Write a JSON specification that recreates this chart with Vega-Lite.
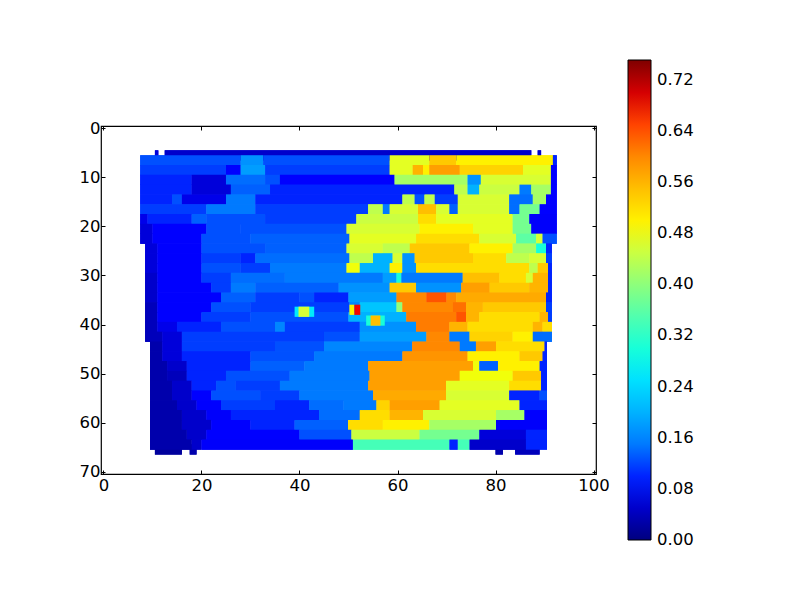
{"$schema":"https://vega.github.io/schema/vega-lite/v6.json","autosize":"none","width":495,"height":348,"padding":{"left":101,"top":126,"right":204,"bottom":126},"background":"white","config":{"view":{"stroke":"black","strokeWidth":1.2},"axis":{"labelFont":"DejaVu Sans","labelFontSize":16.5,"labelColor":"black","domain":false,"grid":false,"tickColor":"black","tickSize":-4,"title":null,"labelFlush":false},"legend":{"labelFont":"DejaVu Sans"}},"datasets":{"cells":[
{"x":12.5,"x2":87.3,"y":5.5,"v":0.05},{"x":10.5,"x2":11.2,"y":5.5,"v":0.06},{"x":88.6,"x2":89.3,"y":5.5,"v":0.05},
{"x":10.5,"x2":16,"y":65.5,"v":0.02},{"x":17.6,"x2":19,"y":65.5,"v":0.03},{"x":80,"x2":81.5,"y":65.5,"v":0.03},{"x":84,"x2":89,"y":65.5,"v":0.04},
{"x":7.5,"x2":28,"y":6.5,"v":0.12},{"x":28,"x2":32.6,"y":6.5,"v":0.17},{"x":32.6,"x2":58.4,"y":6.5,"v":0.12},{"x":58.4,"x2":66.5,"y":6.5,"v":0.47},{"x":66.5,"x2":72,"y":6.5,"v":0.54},{"x":72,"x2":91.7,"y":6.5,"v":0.5},{"x":91.7,"x2":92.5,"y":6.5,"v":0.1},
{"x":7.5,"x2":25,"y":8.5,"v":0.11},{"x":25,"x2":28,"y":8.5,"v":0.09},{"x":28,"x2":33,"y":8.5,"v":0.18},{"x":33,"x2":58.4,"y":8.5,"v":0.11},{"x":58.4,"x2":63.1,"y":8.5,"v":0.47},{"x":63.1,"x2":65.2,"y":8.5,"v":0.56},{"x":65.2,"x2":66.5,"y":8.5,"v":0.5},{"x":66.5,"x2":72.7,"y":8.5,"v":0.58},{"x":72.7,"x2":85.6,"y":8.5,"v":0.53},{"x":85.6,"x2":91.3,"y":8.5,"v":0.47},{"x":91.3,"x2":92.5,"y":8.5,"v":0.09},
{"x":7.5,"x2":18,"y":10.5,"v":0.1},{"x":18,"x2":25,"y":10.5,"v":0.06},{"x":25,"x2":33,"y":10.5,"v":0.14},{"x":33,"x2":36,"y":10.5,"v":0.12},{"x":36,"x2":59.4,"y":10.5,"v":0.09},{"x":59.4,"x2":74.3,"y":10.5,"v":0.42},{"x":74.3,"x2":77,"y":10.5,"v":0.17},{"x":77,"x2":91.3,"y":10.5,"v":0.46},{"x":91.3,"x2":92.5,"y":10.5,"v":0.09},
{"x":7.5,"x2":18,"y":12.5,"v":0.1},{"x":18,"x2":26,"y":12.5,"v":0.06},{"x":26,"x2":34,"y":12.5,"v":0.13},{"x":34,"x2":71.6,"y":12.5,"v":0.1},{"x":71.6,"x2":74.3,"y":12.5,"v":0.44},{"x":74.3,"x2":76.7,"y":12.5,"v":0.2},{"x":76.7,"x2":84.9,"y":12.5,"v":0.45},{"x":84.9,"x2":87.3,"y":12.5,"v":0.15},{"x":87.3,"x2":91.3,"y":12.5,"v":0.42},{"x":91.3,"x2":92.5,"y":12.5,"v":0.09},
{"x":7.5,"x2":14,"y":14.5,"v":0.1},{"x":14,"x2":16,"y":14.5,"v":0.12},{"x":16,"x2":25,"y":14.5,"v":0.07},{"x":25,"x2":31,"y":14.5,"v":0.15},{"x":31,"x2":61,"y":14.5,"v":0.1},{"x":61,"x2":63.5,"y":14.5,"v":0.44},{"x":63.5,"x2":65.5,"y":14.5,"v":0.12},{"x":65.5,"x2":67.6,"y":14.5,"v":0.44},{"x":67.6,"x2":72.3,"y":14.5,"v":0.11},{"x":72.3,"x2":82.8,"y":14.5,"v":0.46},{"x":82.8,"x2":87.6,"y":14.5,"v":0.14},{"x":87.6,"x2":90.3,"y":14.5,"v":0.42},{"x":90.3,"x2":92.5,"y":14.5,"v":0.09},
{"x":7.5,"x2":15,"y":16.5,"v":0.11},{"x":15,"x2":21,"y":16.5,"v":0.11},{"x":21,"x2":31,"y":16.5,"v":0.15},{"x":31,"x2":54,"y":16.5,"v":0.11},{"x":54,"x2":57,"y":16.5,"v":0.44},{"x":57,"x2":58.4,"y":16.5,"v":0.15},{"x":58.4,"x2":64.2,"y":16.5,"v":0.46},{"x":64.2,"x2":67.9,"y":16.5,"v":0.55},{"x":67.9,"x2":70.6,"y":16.5,"v":0.46},{"x":70.6,"x2":72.3,"y":16.5,"v":0.13},{"x":72.3,"x2":82.8,"y":16.5,"v":0.46},{"x":82.8,"x2":84.9,"y":16.5,"v":0.14},{"x":84.9,"x2":89,"y":16.5,"v":0.38},{"x":89,"x2":92.5,"y":16.5,"v":0.09},
{"x":7.5,"x2":9,"y":18.5,"v":0.07},{"x":9,"x2":18,"y":18.5,"v":0.1},{"x":18,"x2":21,"y":18.5,"v":0.13},{"x":21,"x2":33,"y":18.5,"v":0.12},{"x":33,"x2":51.6,"y":18.5,"v":0.11},{"x":51.6,"x2":64.2,"y":18.5,"v":0.45},{"x":64.2,"x2":67.9,"y":18.5,"v":0.52},{"x":67.9,"x2":83.5,"y":18.5,"v":0.47},{"x":83.5,"x2":86.9,"y":18.5,"v":0.38},{"x":86.9,"x2":92.5,"y":18.5,"v":0.08},
{"x":7.5,"x2":10,"y":20.5,"v":0.06},{"x":10,"x2":21,"y":20.5,"v":0.09},{"x":21,"x2":28,"y":20.5,"v":0.12},{"x":28,"x2":49.6,"y":20.5,"v":0.12},{"x":49.6,"x2":64.5,"y":20.5,"v":0.46},{"x":64.5,"x2":75.4,"y":20.5,"v":0.5},{"x":75.4,"x2":83.5,"y":20.5,"v":0.47},{"x":83.5,"x2":87.3,"y":20.5,"v":0.38},{"x":87.3,"x2":92.5,"y":20.5,"v":0.08},
{"x":7.5,"x2":10,"y":22.5,"v":0.06},{"x":10,"x2":20,"y":22.5,"v":0.09},{"x":20,"x2":30,"y":22.5,"v":0.12},{"x":30,"x2":50.2,"y":22.5,"v":0.13},{"x":50.2,"x2":63.8,"y":22.5,"v":0.47},{"x":63.8,"x2":76.7,"y":22.5,"v":0.52},{"x":76.7,"x2":84.2,"y":22.5,"v":0.46},{"x":84.2,"x2":88.3,"y":22.5,"v":0.36},{"x":88.3,"x2":89.6,"y":22.5,"v":0.46},{"x":89.6,"x2":92.5,"y":22.5,"v":0.12},
{"x":8.5,"x2":11,"y":24.5,"v":0.06},{"x":11,"x2":20,"y":24.5,"v":0.09},{"x":20,"x2":33,"y":24.5,"v":0.12},{"x":33,"x2":49.6,"y":24.5,"v":0.13},{"x":49.6,"x2":57,"y":24.5,"v":0.46},{"x":57,"x2":62.5,"y":24.5,"v":0.44},{"x":62.5,"x2":74.7,"y":24.5,"v":0.54},{"x":74.7,"x2":83.5,"y":24.5,"v":0.5},{"x":83.5,"x2":88.3,"y":24.5,"v":0.42},{"x":88.3,"x2":90.3,"y":24.5,"v":0.3},{"x":90.3,"x2":91.5,"y":24.5,"v":0.1},
{"x":8.5,"x2":11,"y":26.5,"v":0.06},{"x":11,"x2":20,"y":26.5,"v":0.09},{"x":20,"x2":28,"y":26.5,"v":0.11},{"x":28,"x2":31,"y":26.5,"v":0.1},{"x":31,"x2":50.2,"y":26.5,"v":0.14},{"x":50.2,"x2":55,"y":26.5,"v":0.44},{"x":55,"x2":59,"y":26.5,"v":0.2},{"x":59,"x2":61,"y":26.5,"v":0.46},{"x":61,"x2":63.5,"y":26.5,"v":0.17},{"x":63.5,"x2":75.4,"y":26.5,"v":0.54},{"x":75.4,"x2":82.2,"y":26.5,"v":0.52},{"x":82.2,"x2":86.9,"y":26.5,"v":0.44},{"x":86.9,"x2":90.3,"y":26.5,"v":0.46},{"x":90.3,"x2":91.5,"y":26.5,"v":0.11},
{"x":8.5,"x2":11,"y":28.5,"v":0.06},{"x":11,"x2":20,"y":28.5,"v":0.09},{"x":20,"x2":28,"y":28.5,"v":0.12},{"x":28,"x2":34,"y":28.5,"v":0.11},{"x":34,"x2":49.6,"y":28.5,"v":0.15},{"x":49.6,"x2":52.3,"y":28.5,"v":0.48},{"x":52.3,"x2":58.4,"y":28.5,"v":0.2},{"x":58.4,"x2":61,"y":28.5,"v":0.5},{"x":61,"x2":63.8,"y":28.5,"v":0.17},{"x":63.8,"x2":86.9,"y":28.5,"v":0.52},{"x":86.9,"x2":88.6,"y":28.5,"v":0.44},{"x":88.6,"x2":90.7,"y":28.5,"v":0.54},{"x":90.7,"x2":91.5,"y":28.5,"v":0.1},
{"x":8.5,"x2":11,"y":30.5,"v":0.05},{"x":11,"x2":20,"y":30.5,"v":0.09},{"x":20,"x2":26,"y":30.5,"v":0.11},{"x":26,"x2":37,"y":30.5,"v":0.14},{"x":37,"x2":57,"y":30.5,"v":0.15},{"x":57,"x2":59.8,"y":30.5,"v":0.18},{"x":59.8,"x2":60.8,"y":30.5,"v":0.3},{"x":60.8,"x2":73.3,"y":30.5,"v":0.15},{"x":73.3,"x2":80.8,"y":30.5,"v":0.55},{"x":80.8,"x2":86.2,"y":30.5,"v":0.52},{"x":86.2,"x2":87.6,"y":30.5,"v":0.46},{"x":87.6,"x2":90.7,"y":30.5,"v":0.56},{"x":90.7,"x2":91.5,"y":30.5,"v":0.1},
{"x":8.5,"x2":11,"y":32.5,"v":0.05},{"x":11,"x2":22,"y":32.5,"v":0.09},{"x":22,"x2":26,"y":32.5,"v":0.11},{"x":26,"x2":31,"y":32.5,"v":0.15},{"x":31,"x2":48,"y":32.5,"v":0.13},{"x":48,"x2":58.4,"y":32.5,"v":0.17},{"x":58.4,"x2":63.8,"y":32.5,"v":0.54},{"x":63.8,"x2":73,"y":32.5,"v":0.17},{"x":73,"x2":78.8,"y":32.5,"v":0.58},{"x":78.8,"x2":86.9,"y":32.5,"v":0.54},{"x":86.9,"x2":90.7,"y":32.5,"v":0.56},{"x":90.7,"x2":91.5,"y":32.5,"v":0.1},
{"x":8.5,"x2":11,"y":34.5,"v":0.05},{"x":11,"x2":24,"y":34.5,"v":0.09},{"x":24,"x2":31,"y":34.5,"v":0.13},{"x":31,"x2":40,"y":34.5,"v":0.11},{"x":40,"x2":43,"y":34.5,"v":0.12},{"x":43,"x2":50,"y":34.5,"v":0.1},{"x":50,"x2":59.8,"y":34.5,"v":0.18},{"x":59.8,"x2":65.9,"y":34.5,"v":0.6},{"x":65.9,"x2":70,"y":34.5,"v":0.64},{"x":70,"x2":72,"y":34.5,"v":0.6},{"x":72,"x2":90.3,"y":34.5,"v":0.57},{"x":90.3,"x2":91.5,"y":34.5,"v":0.1},
{"x":8.5,"x2":11,"y":36.5,"v":0.04},{"x":11,"x2":22,"y":36.5,"v":0.09},{"x":22,"x2":30,"y":36.5,"v":0.12},{"x":30,"x2":50.2,"y":36.5,"v":0.11},{"x":50.2,"x2":52.3,"y":36.5,"v":0.16},{"x":52.3,"x2":59.8,"y":36.5,"v":0.22},{"x":59.8,"x2":61,"y":36.5,"v":0.4},{"x":61,"x2":71.3,"y":36.5,"v":0.6},{"x":71.3,"x2":74,"y":36.5,"v":0.62},{"x":74,"x2":77.4,"y":36.5,"v":0.56},{"x":77.4,"x2":90.3,"y":36.5,"v":0.54},{"x":90.3,"x2":91.5,"y":36.5,"v":0.11},
{"x":8.5,"x2":11,"y":38.5,"v":0.04},{"x":11,"x2":20,"y":38.5,"v":0.09},{"x":20,"x2":30,"y":38.5,"v":0.11},{"x":30,"x2":50,"y":38.5,"v":0.12},{"x":50,"x2":61.8,"y":38.5,"v":0.2},{"x":61.8,"x2":72,"y":38.5,"v":0.61},{"x":72,"x2":74,"y":38.5,"v":0.64},{"x":74,"x2":76.7,"y":38.5,"v":0.56},{"x":76.7,"x2":89,"y":38.5,"v":0.52},{"x":89,"x2":90.7,"y":38.5,"v":0.56},{"x":90.7,"x2":91.5,"y":38.5,"v":0.11},
{"x":8.5,"x2":11,"y":40.5,"v":0.04},{"x":11,"x2":15,"y":40.5,"v":0.07},{"x":15,"x2":24,"y":40.5,"v":0.1},{"x":24,"x2":35,"y":40.5,"v":0.12},{"x":35,"x2":37,"y":40.5,"v":0.16},{"x":37,"x2":52.3,"y":40.5,"v":0.11},{"x":52.3,"x2":63.8,"y":40.5,"v":0.17},{"x":63.8,"x2":70.6,"y":40.5,"v":0.61},{"x":70.6,"x2":74.3,"y":40.5,"v":0.56},{"x":74.3,"x2":87.6,"y":40.5,"v":0.52},{"x":87.6,"x2":89.6,"y":40.5,"v":0.56},{"x":89.6,"x2":91.5,"y":40.5,"v":0.52},
{"x":8.5,"x2":12,"y":42.5,"v":0.04},{"x":12,"x2":16,"y":42.5,"v":0.06},{"x":16,"x2":45,"y":42.5,"v":0.11},{"x":45,"x2":52.3,"y":42.5,"v":0.12},{"x":52.3,"x2":65.9,"y":42.5,"v":0.18},{"x":65.9,"x2":70.6,"y":42.5,"v":0.6},{"x":70.6,"x2":74.7,"y":42.5,"v":0.15},{"x":74.7,"x2":83.5,"y":42.5,"v":0.53},{"x":83.5,"x2":87.6,"y":42.5,"v":0.5},{"x":87.6,"x2":91.5,"y":42.5,"v":0.14},
{"x":9.5,"x2":12,"y":44.5,"v":0.03},{"x":12,"x2":16,"y":44.5,"v":0.06},{"x":16,"x2":35,"y":44.5,"v":0.11},{"x":35,"x2":45,"y":44.5,"v":0.12},{"x":45,"x2":63,"y":44.5,"v":0.16},{"x":63,"x2":72.7,"y":44.5,"v":0.6},{"x":72.7,"x2":76,"y":44.5,"v":0.15},{"x":76,"x2":80.1,"y":44.5,"v":0.58},{"x":80.1,"x2":90,"y":44.5,"v":0.52},{"x":90,"x2":90.5,"y":44.5,"v":0.1},
{"x":9.5,"x2":12,"y":46.5,"v":0.03},{"x":12,"x2":16,"y":46.5,"v":0.06},{"x":16,"x2":30,"y":46.5,"v":0.1},{"x":30,"x2":43,"y":46.5,"v":0.12},{"x":43,"x2":61,"y":46.5,"v":0.15},{"x":61,"x2":74.3,"y":46.5,"v":0.59},{"x":74.3,"x2":84.9,"y":46.5,"v":0.5},{"x":84.9,"x2":89.6,"y":46.5,"v":0.54},{"x":89.6,"x2":90.5,"y":46.5,"v":0.1},
{"x":9.5,"x2":13,"y":48.5,"v":0.03},{"x":13,"x2":17,"y":48.5,"v":0.05},{"x":17,"x2":30,"y":48.5,"v":0.1},{"x":30,"x2":41,"y":48.5,"v":0.13},{"x":41,"x2":54,"y":48.5,"v":0.15},{"x":54,"x2":75.4,"y":48.5,"v":0.58},{"x":75.4,"x2":76.7,"y":48.5,"v":0.48},{"x":76.7,"x2":80.5,"y":48.5,"v":0.13},{"x":80.5,"x2":89,"y":48.5,"v":0.5},{"x":89,"x2":90.5,"y":48.5,"v":0.1},
{"x":9.5,"x2":13,"y":50.5,"v":0.03},{"x":13,"x2":17,"y":50.5,"v":0.04},{"x":17,"x2":25,"y":50.5,"v":0.1},{"x":25,"x2":38,"y":50.5,"v":0.12},{"x":38,"x2":54.3,"y":50.5,"v":0.15},{"x":54.3,"x2":72.7,"y":50.5,"v":0.58},{"x":72.7,"x2":83.5,"y":50.5,"v":0.48},{"x":83.5,"x2":89.3,"y":50.5,"v":0.54},{"x":89.3,"x2":90.5,"y":50.5,"v":0.1},
{"x":9.5,"x2":14,"y":52.5,"v":0.03},{"x":14,"x2":18,"y":52.5,"v":0.05},{"x":18,"x2":23,"y":52.5,"v":0.1},{"x":23,"x2":27,"y":52.5,"v":0.12},{"x":27,"x2":36,"y":52.5,"v":0.11},{"x":36,"x2":54,"y":52.5,"v":0.15},{"x":54,"x2":69.9,"y":52.5,"v":0.58},{"x":69.9,"x2":82.8,"y":52.5,"v":0.47},{"x":82.8,"x2":89.3,"y":52.5,"v":0.52},{"x":89.3,"x2":90.5,"y":52.5,"v":0.1},
{"x":9.5,"x2":14,"y":54.5,"v":0.03},{"x":14,"x2":18,"y":54.5,"v":0.05},{"x":18,"x2":22,"y":54.5,"v":0.09},{"x":22,"x2":32,"y":54.5,"v":0.12},{"x":32,"x2":40,"y":54.5,"v":0.11},{"x":40,"x2":55,"y":54.5,"v":0.15},{"x":55,"x2":69.9,"y":54.5,"v":0.57},{"x":69.9,"x2":82.8,"y":54.5,"v":0.46},{"x":82.8,"x2":89,"y":54.5,"v":0.1},{"x":89,"x2":90.5,"y":54.5,"v":0.12},
{"x":9.5,"x2":15,"y":56.5,"v":0.03},{"x":15,"x2":19,"y":56.5,"v":0.05},{"x":19,"x2":24,"y":56.5,"v":0.09},{"x":24,"x2":35,"y":56.5,"v":0.11},{"x":35,"x2":42,"y":56.5,"v":0.1},{"x":42,"x2":49,"y":56.5,"v":0.14},{"x":49,"x2":55.7,"y":56.5,"v":0.15},{"x":55.7,"x2":58.4,"y":56.5,"v":0.53},{"x":58.4,"x2":68.6,"y":56.5,"v":0.58},{"x":68.6,"x2":84.9,"y":56.5,"v":0.47},{"x":84.9,"x2":90.5,"y":56.5,"v":0.1},
{"x":9.5,"x2":16,"y":58.5,"v":0.03},{"x":16,"x2":21,"y":58.5,"v":0.05},{"x":21,"x2":26,"y":58.5,"v":0.08},{"x":26,"x2":44,"y":58.5,"v":0.1},{"x":44,"x2":52.3,"y":58.5,"v":0.14},{"x":52.3,"x2":58.4,"y":58.5,"v":0.52},{"x":58.4,"x2":65.2,"y":58.5,"v":0.56},{"x":65.2,"x2":80.1,"y":58.5,"v":0.46},{"x":80.1,"x2":85.9,"y":58.5,"v":0.42},{"x":85.9,"x2":90.5,"y":58.5,"v":0.09},
{"x":9.5,"x2":16,"y":60.5,"v":0.03},{"x":16,"x2":22,"y":60.5,"v":0.05},{"x":22,"x2":30,"y":60.5,"v":0.09},{"x":30,"x2":39,"y":60.5,"v":0.1},{"x":39,"x2":49.9,"y":60.5,"v":0.13},{"x":49.9,"x2":57,"y":60.5,"v":0.52},{"x":57,"x2":66.5,"y":60.5,"v":0.5},{"x":66.5,"x2":80.1,"y":60.5,"v":0.42},{"x":80.1,"x2":90.5,"y":60.5,"v":0.08},
{"x":9.5,"x2":17,"y":62.5,"v":0.03},{"x":17,"x2":21,"y":62.5,"v":0.05},{"x":21,"x2":40,"y":62.5,"v":0.09},{"x":40,"x2":50.6,"y":62.5,"v":0.12},{"x":50.6,"x2":64.5,"y":62.5,"v":0.45},{"x":64.5,"x2":76.7,"y":62.5,"v":0.38},{"x":76.7,"x2":86.2,"y":62.5,"v":0.06},{"x":86.2,"x2":90.5,"y":62.5,"v":0.1},
{"x":9.5,"x2":18,"y":64.5,"v":0.03},{"x":18,"x2":20,"y":64.5,"v":0.05},{"x":20,"x2":50.9,"y":64.5,"v":0.08},{"x":50.9,"x2":70.6,"y":64.5,"v":0.34},{"x":70.6,"x2":72.3,"y":64.5,"v":0.1},{"x":72.3,"x2":74.7,"y":64.5,"v":0.34},{"x":74.7,"x2":86.2,"y":64.5,"v":0.05},{"x":86.2,"x2":90.5,"y":64.5,"v":0.1},
{"x":39,"x2":43,"y":37.4,"v":0.26},{"x":39.8,"x2":42,"y":37.4,"v":0.46},{"x":50.2,"x2":51.2,"y":37,"v":0.5},{"x":51.2,"x2":52.4,"y":37,"v":0.68},{"x":53.6,"x2":57.4,"y":39.2,"v":0.3},{"x":54.5,"x2":56.5,"y":39.2,"v":0.55}
]},
"data":{"name":"cells"},
"resolve":{"axis":{"x":"independent","y":"independent"}},
"layer":[
{"mark":{"type":"rect","height":10.2},
"encoding":{
"x":{"field":"x","type":"quantitative","scale":{"domain":[-0.5,100.5],"nice":false,"zero":false},"axis":{"values":[0,20,40,60,80,100],"orient":"bottom","labelPadding":7}},
"x2":{"field":"x2"},
"y":{"field":"y","type":"quantitative","scale":{"domain":[-0.5,70.5],"reverse":true,"nice":false,"zero":false},"axis":{"values":[0,10,20,30,40,50,60,70],"orient":"left","labelPadding":5}},
"color":{"field":"v","type":"quantitative","scale":{"domain":[0,0.0826,0.0939,0.2553,0.2816,0.4806,0.4957,0.6684,0.6834,0.751],"range":["#00007f","#0000ff","#0000ff","#00e5ff","#14ffe6","#f2ff08","#fff500","#ff1200","#f20000","#7f0000"]},
"legend":{"type":"gradient","orient":"none","legendX":527,"legendY":-66,"gradientLength":480,"gradientThickness":23,"title":null,"values":[0,0.08,0.16,0.24,0.32,0.4,0.48,0.56,0.64,0.72],"format":".2f","labelFontSize":16.5,"labelColor":"black","gradientStrokeColor":"black","gradientStrokeWidth":1,"labelOverlap":false,"labelOffset":6,"encode":{"labels":{"update":{"baseline":{"value":"middle"}}}}}}
}},
{"mark":{"type":"rect","height":10.2},
"encoding":{
"x":{"field":"x","type":"quantitative","axis":{"values":[0,20,40,60,80,100],"orient":"top","labels":false}},
"x2":{"field":"x2"},
"y":{"field":"y","type":"quantitative","axis":{"values":[0,10,20,30,40,50,60,70],"orient":"right","labels":false}},
"color":{"field":"v","type":"quantitative"}
}}
]}
